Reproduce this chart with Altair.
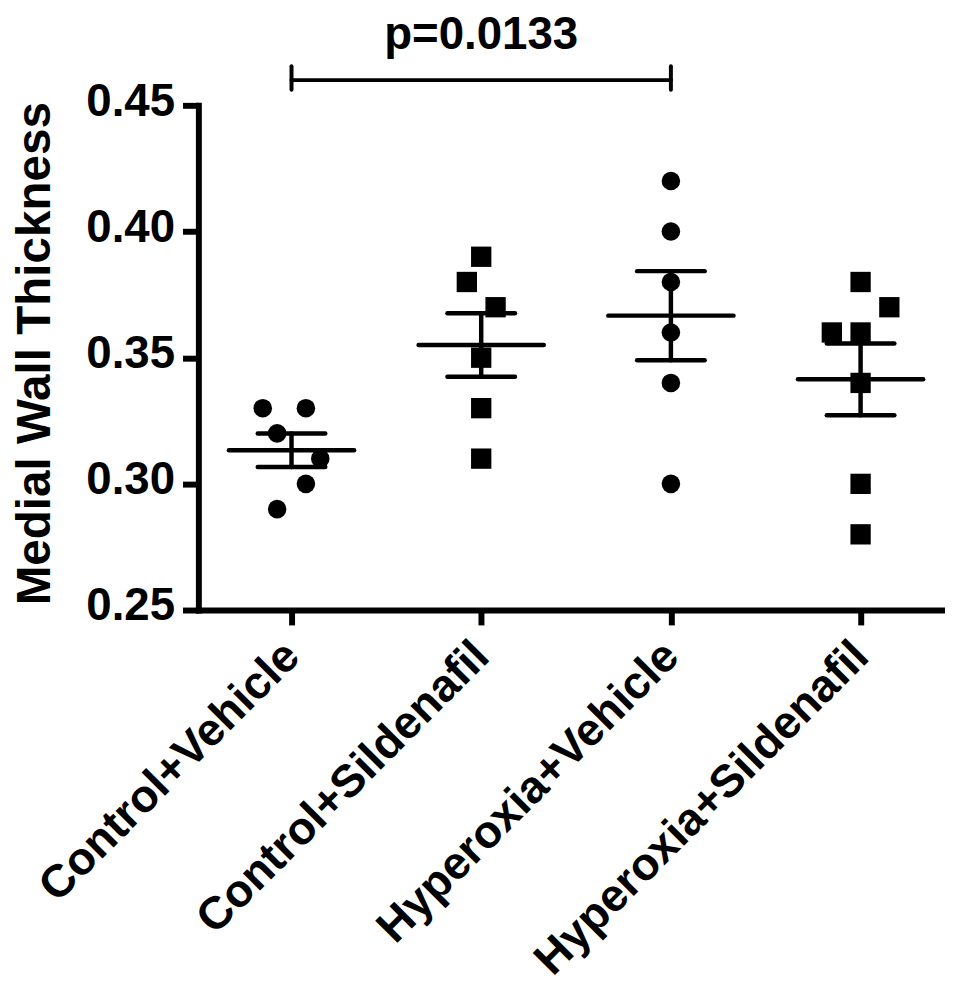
import json
import altair as alt
import pandas as pd

# ---------------- data ----------------
categories = ["Control+Vehicle", "Control+Sildenafil", "Hyperoxia+Vehicle", "Hyperoxia+Sildenafil"]
markers = ["circle", "square", "circle", "square"]

cv_values = [0.33, 0.33, 0.32, 0.31, 0.30, 0.29]
cs_values = [0.39, 0.38, 0.37, 0.35, 0.33, 0.31]
hv_values = [0.42, 0.40, 0.38, 0.36, 0.34, 0.30]
hs_values = [0.38, 0.37, 0.36, 0.36, 0.34, 0.30, 0.28]

# horizontal scatter slot of each point (in symbol widths)
cv_slots = [-2, 1, -1, 2, 1, -1]
cs_slots = [0, -1, 1, 0, 0, 0]
hv_slots = [0, 0, 0, 0, 0, 0]
hs_slots = [0, 2, -2, 0, 0, 0, 0]

y_ticks = [0.25, 0.30, 0.35, 0.40, 0.45]

bracket_from = 0
bracket_to = 2
bracket_level = 0.46
bracket_tick_top = 0.4655
bracket_tick_bottom = 0.4562
p_label = "p=0.0133"
p_label_level = 0.4725

# ---------------- styling constants ----------------
FONT = "Liberation Sans"
SLOT = 0.0758       # width of one scatter slot, in category units
MEAN_HALF = 0.33    # half width of mean line
CAP_HALF = 0.178    # half width of SEM caps

all_values = [cv_values, cs_values, hv_values, hs_values]
all_slots = [cv_slots, cs_slots, hv_slots, hs_slots]
rows = []
for gi, (vals, slots) in enumerate(zip(all_values, all_slots)):
    for v, s in zip(vals, slots):
        rows.append({"group": categories[gi], "idx": gi, "value": v,
                     "slot": s, "marker": markers[gi]})
df = pd.DataFrame(rows)

bracket_df = pd.DataFrame({"x1": [bracket_from], "x2": [bracket_to], "y": [bracket_level]})
bracket_ends = pd.DataFrame({"x": [bracket_from, bracket_to],
                             "y1": [bracket_tick_bottom] * 2, "y2": [bracket_tick_top] * 2})
label_df = pd.DataFrame({"x": [(bracket_from + bracket_to) / 2], "y": [p_label_level], "t": [p_label]})

xs = alt.Scale(domain=[-0.491, 3.445], nice=False, zero=False)
ys = alt.Scale(domain=[0.25, 0.45], nice=False, zero=False)

label_expr = json.dumps(categories) + "[datum.value]"
x_axis = alt.Axis(values=list(range(len(categories))), labelExpr=label_expr,
                  labelAngle=-45, labelAlign="right", labelBaseline="middle",
                  labelPadding=24, labelFont=FONT, labelFontSize=46, labelFontWeight="bold",
                  labelColor="black", labelLimit=2000, tickSize=15, tickWidth=6, tickColor="black",
                  domainWidth=6, domainColor="black", domainCap="square",
                  grid=False, labelOverlap=False, labelFlush=False)
y_axis = alt.Axis(values=y_ticks, format=".2f", title="Medial Wall Thickness",
                  titleFont=FONT, titleFontSize=48, titleFontWeight="bold", titleColor="black",
                  titleAngle=-90, titleX=-150, titleY=250, titleBaseline="alphabetic",
                  titleAlign="center", titleLimit=2000,
                  labelFont=FONT, labelFontSize=46, labelFontWeight="bold", labelColor="black",
                  labelPadding=8, labelOffset=-4, tickSize=16, tickWidth=6, tickColor="black",
                  domainWidth=6, domainColor="black", domainCap="square", grid=False)


def X(field):
    return alt.X(field, type="quantitative", scale=xs, axis=x_axis, title=None)


def Y(field):
    return alt.Y(field, type="quantitative", scale=ys, axis=y_axis)


points = alt.Chart(df).transform_calculate(
    xpos=f"datum.idx + datum.slot * {SLOT}",
    sz="datum.marker == 'circle' ? 350 : 420",
).mark_point(filled=True, opacity=1, color="black", strokeWidth=0).encode(
    x=X("xpos"),
    y=Y("value"),
    shape=alt.Shape("marker:N", scale=None),
    size=alt.Size("sz:Q", scale=None),
)

stats = alt.Chart(df).transform_aggregate(
    mean="mean(value)", sem="stderr(value)", groupby=["idx"]
).transform_calculate(
    lo="datum.mean - datum.sem",
    hi="datum.mean + datum.sem",
    m1=f"datum.idx - {MEAN_HALF}",
    m2=f"datum.idx + {MEAN_HALF}",
    c1=f"datum.idx - {CAP_HALF}",
    c2=f"datum.idx + {CAP_HALF}",
)

rule_kw = dict(color="black", strokeWidth=4.5, strokeCap="round")
mean_line = stats.mark_rule(**rule_kw).encode(x=X("m1"), x2="m2:Q", y=Y("mean"))
cap_hi = stats.mark_rule(**rule_kw).encode(x=X("c1"), x2="c2:Q", y=Y("hi"))
cap_lo = stats.mark_rule(**rule_kw).encode(x=X("c1"), x2="c2:Q", y=Y("lo"))
stem = stats.mark_rule(**rule_kw).encode(x=X("idx"), y=Y("lo"), y2="hi:Q")

bracket = alt.Chart(bracket_df).mark_rule(color="black", strokeWidth=4, strokeCap="round").encode(
    x=X("x1"), x2="x2:Q", y=Y("y"))
bracket_tk = alt.Chart(bracket_ends).mark_rule(color="black", strokeWidth=4, strokeCap="round").encode(
    x=X("x"), y=Y("y1"), y2="y2:Q")
ptext = alt.Chart(label_df).mark_text(font=FONT, fontSize=46, fontWeight="bold", color="black",
                                      baseline="alphabetic", align="center").encode(
    x=X("x"), y=Y("y"), text="t:N")

chart = alt.layer(points, mean_line, cap_hi, cap_lo, stem, bracket, bracket_tk, ptext).properties(
    width=753, height=509,
    autosize=alt.AutoSizeParams(type="none"),
    padding={"left": 192, "top": 94, "right": 0, "bottom": 376},
    background="white",
).configure_view(stroke=None)

chart.save("out.html", embed_options={"renderer": "svg", "actions": False})
